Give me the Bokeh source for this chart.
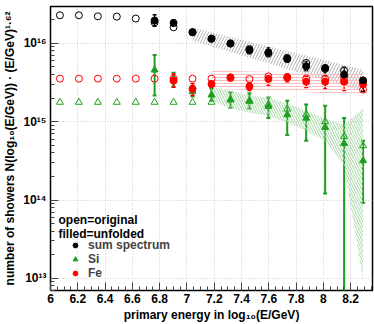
from bokeh.plotting import figure
from bokeh.models import (Whisker, TeeHead, ColumnDataSource, Legend, LegendItem, Label,
                          SingleIntervalTicker, FixedTicker, CustomJSTickFormatter, Range1d)
from bokeh.embed import file_html
from bokeh.resources import INLINE

# ---------------- data ----------------
# bin centres of log10(E/GeV)
energy = [6.069, 6.208, 6.347, 6.486, 6.625, 6.763, 6.902, 7.041, 7.180,
          7.319, 7.458, 7.597, 7.735, 7.874, 8.013, 8.152, 8.291]

# original (open markers), all bins
sum_orig = [2.28e16, 2.28e16, 2.21e16, 2.19e16, 2.07e16, 1.85e16, 1.60e16, 1.39e16, 1.15e16,
            1.00e16, 8.43e15, 7.45e15, 6.47e15, 5.62e15, 4.71e15, 4.48e15, 3.18e15]
fe_orig = [3.54e15, 3.54e15, 3.54e15, 3.54e15, 3.54e15, 3.54e15, 3.54e15, 3.54e15, 3.54e15,
           3.60e15, 3.50e15, 3.79e15, 3.65e15, 3.57e15, 3.54e15, 3.60e15, 2.56e15]
si_orig = [1.77e15, 1.77e15, 1.77e15, 1.77e15, 1.77e15, 1.77e15, 1.77e15, 1.77e15, 1.77e15,
           1.90e15, 1.85e15, 1.65e15, 1.45e15, 1.23e15, 1.00e15, 6.49e14, 4.94e14]

# unfolded sum spectrum (filled black), bins 6.763 ... 8.291
energy_sum_unf = [6.763, 6.902, 7.041, 7.180, 7.319, 7.458, 7.597, 7.735, 7.874, 8.013, 8.152, 8.291]
sum_unf = [1.95e16, 1.82e16, 1.38e16, 1.14e16, 9.9e15, 8.14e15, 7.67e15, 6.32e15, 5.08e15, 4.85e15, 3.98e15, 3.37e15]
sum_unf_hi = [2.31e16, 1.98e16, 1.50e16, 1.22e16, 1.07e16, 9.08e15, 8.8e15, 7.11e15, 5.84e15, 5.18e15, 4.94e15, 3.47e15]
sum_unf_lo = [1.65e16, 1.68e16, 1.29e16, 1.07e16, 9.2e15, 7.38e15, 6.76e15, 5.72e15, 4.48e15, 3.87e15, 3.03e15, 2.42e15]

# unfolded Si (filled green triangles)
energy_si_unf = [6.763, 6.902, 7.041, 7.180, 7.319, 7.458, 7.597, 7.735, 7.874, 8.013, 8.152, 8.291]
si_unf = [4.57e15, 3.44e15, 2.42e15, 2.19e15, 1.91e15, 1.82e15, 1.57e15, 1.23e15, 1.11e15, 8.45e14, 5.28e14, 3.18e14]
si_unf_hi = [7.11e15, 4.22e15, 2.88e15, 2.64e15, 2.35e15, 2.30e15, 2.04e15, 1.85e15, 1.65e15, 1.60e15, 1.11e15, 5.72e14]
si_unf_lo = [2.15e15, 2.80e15, 2.09e15, 1.85e15, 1.51e15, 1.47e15, 1.11e15, 6.76e14, 5.72e14, 1.21e14, 1.0e12, 9.24e13]

# unfolded Fe (filled red circles)
energy_fe_unf = [6.902, 7.041, 7.180, 7.319, 7.458, 7.597, 7.735, 7.874, 8.013, 8.152, 8.291]
fe_unf = [3.34e15, 2.62e15, 3.03e15, 3.68e15, 2.82e15, 3.51e15, 3.68e15, 3.24e15, 3.24e15, 3.24e15, 3.00e15]
fe_unf_hi = [4.07e15, 3.06e15, 3.34e15, 3.98e15, 3.15e15, 3.98e15, 4.10e15, 3.76e15, 3.87e15, 3.87e15, 3.54e15]
fe_unf_lo = [2.74e15, 2.15e15, 2.72e15, 3.39e15, 2.49e15, 2.88e15, 3.24e15, 2.72e15, 2.64e15, 2.49e15, 2.49e15]

# systematic bands
energy_sum_band = [7.041, 7.180, 7.319, 7.458, 7.597, 7.735, 7.874, 8.013, 8.152, 8.291]
sum_band_hi = [1.58e16, 1.38e16, 1.20e16, 1.05e16, 9.16e15, 7.97e15, 6.97e15, 6.07e15, 5.30e15, 4.61e15]
sum_band_lo = [1.08e16, 9.13e15, 7.74e15, 6.56e15, 5.55e15, 4.71e15, 4.00e15, 3.39e15, 2.87e15, 2.43e15]

energy_comp_band = [7.180, 7.319, 7.458, 7.597, 7.735, 7.874, 8.013, 8.152, 8.291]
fe_band_hi = [4.48e15, 4.43e15, 4.38e15, 4.33e15, 4.28e15, 4.23e15, 4.18e15, 4.14e15, 4.10e15]
fe_band_lo = [2.64e15, 2.58e15, 2.53e15, 2.48e15, 2.43e15, 2.37e15, 2.32e15, 2.25e15, 2.15e15]
si_band_hi = [2.80e15, 2.49e15, 2.15e15, 2.03e15, 1.70e15, 1.38e15, 1.09e15, 9.16e14, 1.47e15]
si_band_lo = [1.85e15, 1.47e15, 1.30e15, 1.19e15, 9.7e14, 7.67e14, 5.72e14, 2.74e14, 9.3e12]

y_major = [1e13, 1e14, 1e15, 1e16]
y_minor = [m * d for d in [1e12, 1e13, 1e14, 1e15, 1e16] for m in range(2, 10)]

x_title = "primary energy in log\u2081\u2080(E/GeV)"
y_title = "number of showers N(log\u2081\u2080(E/GeV)) \u00b7 (E/GeV)\u00b9\u00b7\u2076\u00b2"
legend_labels = ["sum spectrum", "Si", "Fe"]
note_lines = ["open=original", "filled=unfolded"]

# ---------------- styling ----------------
FONT = "Liberation Sans"
BLACK = "#000000"
RED = "#ff0000"
GREEN = "#1f9f1f"

p = figure(width=374, height=324, output_backend="svg", toolbar_location=None,
           y_axis_type="log", x_range=Range1d(6.0, 8.36), y_range=Range1d(7.0e12, 2.95e16),
           min_border_left=49, min_border_right=2, min_border_top=6, min_border_bottom=34)
p.background_fill_color = "white"
p.border_fill_color = "white"
p.outline_line_color = "black"
p.outline_line_width = 1.5

# axes
p.xaxis.ticker = SingleIntervalTicker(interval=0.2, num_minor_ticks=4)
p.xaxis.formatter = CustomJSTickFormatter(code="return String(Number(tick.toFixed(1)));")
p.yaxis.ticker = FixedTicker(ticks=y_major, minor_ticks=y_minor)
p.yaxis.formatter = CustomJSTickFormatter(code="""
const sup = {"0":"\u2070","1":"\u00b9","2":"\u00b2","3":"\u00b3","4":"\u2074","5":"\u2075",
             "6":"\u2076","7":"\u2077","8":"\u2078","9":"\u2079","-":"\u207b"};
const e = Math.round(Math.log10(tick));
return "10" + String(e).split("").map(c => sup[c]).join("");
""")
for ax in (p.xaxis[0], p.yaxis[0]):
    ax.axis_line_color = None
    ax.major_tick_in = 8
    ax.major_tick_out = 0
    ax.minor_tick_in = 4
    ax.minor_tick_out = 0
    ax.major_tick_line_color = "#444444"
    ax.minor_tick_line_color = "#444444"
    ax.major_label_text_font = FONT
    ax.major_label_text_font_style = "bold"
    ax.major_label_text_font_size = "12px"
    ax.major_label_text_color = "black"
    ax.axis_label_text_font = FONT
    ax.axis_label_text_font_style = "bold"
    ax.axis_label_text_font_size = "12px"
    ax.axis_label_text_color = "black"
p.xaxis.major_label_standoff = 3
p.xaxis.axis_label = x_title
p.xaxis.axis_label_standoff = 2
p.yaxis.major_label_standoff = 4
p.yaxis.axis_label = y_title
p.yaxis.axis_label_standoff = 3

for g in (p.xgrid[0], p.ygrid[0]):
    g.grid_line_color = "#c8c8c8"
    g.grid_line_dash = "1 2"
    g.grid_line_width = 1

# systematic bands (hatched)
p.varea(x=energy_sum_band, y1=sum_band_lo, y2=sum_band_hi, fill_alpha=0,
        hatch_pattern="/", hatch_color="#b4b4b4", hatch_scale=6, hatch_weight=1)
p.varea(x=energy_comp_band, y1=fe_band_lo, y2=fe_band_hi, fill_alpha=0,
        hatch_pattern="-", hatch_color="#ffbcbc", hatch_scale=3, hatch_weight=1)
p.varea(x=energy_comp_band, y1=si_band_lo, y2=si_band_hi, fill_alpha=0,
        hatch_pattern="\\", hatch_color="#a2d6a2", hatch_scale=5, hatch_weight=1)

# original spectra (open markers)
p.scatter(energy, sum_orig, marker="circle", size=7, fill_color=None, line_color=BLACK, line_width=1)
p.scatter(energy, fe_orig, marker="circle", size=7, fill_color=None, line_color=RED, line_width=1)
p.scatter(energy, si_orig, marker="triangle", size=7, fill_color=None, line_color=GREEN, line_width=1)

# error bars for unfolded
def bars(x, lo, hi, color, width):
    src = ColumnDataSource(dict(x=x, lo=lo, hi=hi))
    w = Whisker(source=src, base="x", lower="lo", upper="hi", line_color=color, line_width=width,
                upper_head=TeeHead(size=4, line_color=color, line_width=width),
                lower_head=TeeHead(size=4, line_color=color, line_width=width))
    p.add_layout(w)

bars(energy_si_unf, si_unf_lo, si_unf_hi, GREEN, 2)
bars(energy_fe_unf, fe_unf_lo, fe_unf_hi, RED, 1.5)
bars(energy_sum_unf, sum_unf_lo, sum_unf_hi, BLACK, 1.5)

r_si = p.scatter(energy_si_unf, si_unf, marker="triangle", size=7, fill_color=GREEN, line_color=GREEN)
r_fe = p.scatter(energy_fe_unf, fe_unf, marker="circle", size=7, fill_color=RED, line_color=RED)
r_sum = p.scatter(energy_sum_unf, sum_unf, marker="circle", size=7, fill_color=BLACK, line_color=BLACK)

# legend: one single-row legend per entry so the rows sit close together
for lab, rend, ly in zip(legend_labels, [r_sum, r_si, r_fe], [38, 24, 10]):
    lg = Legend(items=[LegendItem(label=lab, renderers=[rend])], location=(19, ly))
    lg.background_fill_alpha = 0
    lg.border_line_color = None
    lg.label_text_font = FONT
    lg.label_text_font_style = "bold"
    lg.label_text_font_size = "12px"
    lg.glyph_width = 12
    lg.glyph_height = 12
    lg.label_height = 12
    lg.label_standoff = 7
    lg.padding = 0
    lg.margin = 0
    p.add_layout(lg)

for txt, yy in zip(note_lines, [71, 57]):
    p.add_layout(Label(x=8, y=yy, x_units="screen", y_units="screen", text=txt,
                       text_font=FONT, text_font_style="bold", text_font_size="12px",
                       text_baseline="middle", text_color="black"))

open("out.html", "w").write(file_html(p, INLINE))
